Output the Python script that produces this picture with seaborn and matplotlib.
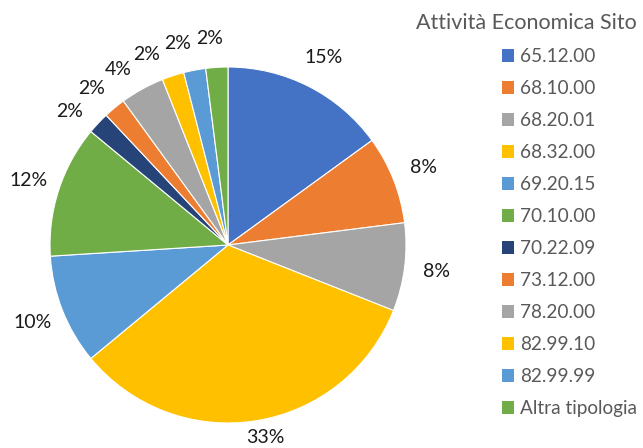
import matplotlib
matplotlib.use("Agg")
import numpy as np
import matplotlib.pyplot as plt
import seaborn as sns
from matplotlib.patches import Patch

categories = ["65.12.00", "68.10.00", "68.20.01", "68.32.00", "69.20.15", "70.10.00",
              "70.22.09", "73.12.00", "78.20.00", "82.99.10", "82.99.99", "Altra tipologia"]
values = [15, 8, 8, 33, 10, 12, 2, 2, 4, 2, 2, 2]
colors = ["#4472C4", "#ED7D31", "#A5A5A5", "#FFC000", "#5B9BD5", "#70AD47",
          "#264478", "#ED7D31", "#A5A5A5", "#FFC000", "#5B9BD5", "#70AD47"]
legend_title = "Attività Economica Sito"

sns.set_theme(style="white")
plt.rcParams['font.family'] = ['Lato', 'DejaVu Sans']

W, H = 643, 448
fig = plt.figure(figsize=(W / 100, H / 100), dpi=100)
cx, cy, r = 228, 245, 178
ax = fig.add_axes([(cx - r) / W, (H - cy - r) / H, 2 * r / W, 2 * r / H])
palette = sns.color_palette(colors)
wedges, texts, autotexts = ax.pie(values, colors=palette, startangle=90, counterclock=False,
                                  autopct=lambda p: f"{p:.0f}%", pctdistance=1.18,
                                  wedgeprops=dict(edgecolor="white", linewidth=0.8),
                                  textprops=dict(fontsize=14, color="#1a1a1a"))

def place(t, ang_deg, dist):
    a = np.deg2rad(ang_deg)
    t.set_position((dist * np.cos(a), dist * np.sin(a)))

def mid_angle(w):
    return ((w.theta1 + w.theta2) / 2) % 360

# bring the label of the large bottom slice a little closer to the pie
place(autotexts[3], mid_angle(wedges[3]) + 2, 1.10)

# spread the crowded labels of the small slices near the top (like Excel does)
prev = 86
for i in range(len(values) - 1, -1, -1):
    mid = mid_angle(wedges[i])
    if not (90 <= mid <= 145):
        continue
    ang = max(mid, prev + 9)
    place(autotexts[i], ang, 1.165)
    prev = ang

ax.set_xlim(-1, 1)
ax.set_ylim(-1, 1)
ax.set_aspect("equal")
ax.axis("off")

handles = [Patch(facecolor=c, edgecolor="none") for c in palette]
leg = fig.legend(handles, categories, title=legend_title, loc="upper right",
                 bbox_to_anchor=(641 / W, 1 - 9 / H), frameon=False,
                 fontsize=13.7, title_fontsize=15.5, handlelength=0.65, handleheight=0.65,
                 handletextpad=0.3, labelspacing=0.79, borderaxespad=0, borderpad=0.2)
for tx in leg.get_texts():
    tx.set_color("#595959")
leg.get_title().set_color("#595959")
leg._legend_box.align = "right"

fig.savefig("out.png", dpi=100, facecolor="white")
